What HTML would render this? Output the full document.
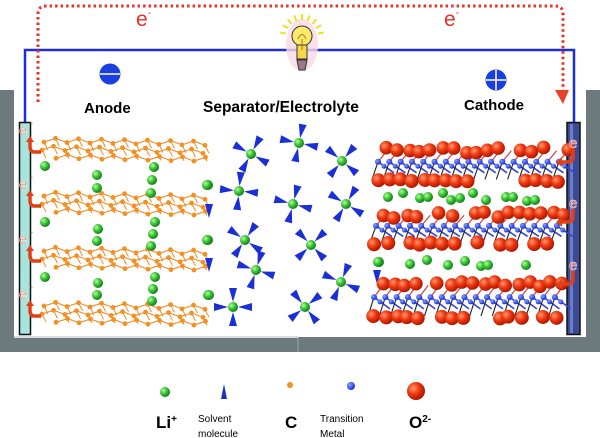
<!DOCTYPE html>
<html><head><meta charset="utf-8"><style>
html,body{margin:0;padding:0;background:#fff;}
svg{display:block}
text{font-family:"Liberation Sans",Arial,sans-serif}
</style></head><body>
<svg id="s" width="600" height="438" viewBox="0 0 600 438" xmlns="http://www.w3.org/2000/svg">
<defs>
<radialGradient id="g" cx="35%" cy="35%" r="65%"><stop offset="0" stop-color="#b8ff9a"/><stop offset=".5" stop-color="#3ec83a"/><stop offset="1" stop-color="#12801a"/></radialGradient>
<radialGradient id="r" cx="35%" cy="35%" r="65%"><stop offset="0" stop-color="#ff9a70"/><stop offset=".5" stop-color="#f03a12"/><stop offset="1" stop-color="#b01800"/></radialGradient>
<radialGradient id="b" cx="35%" cy="35%" r="65%"><stop offset="0" stop-color="#8aa0ff"/><stop offset="1" stop-color="#1630d8"/></radialGradient>
</defs>
<rect x="0" y="90" width="14" height="262" fill="#6c7a7e"/>
<rect x="586" y="90" width="14" height="262" fill="#6c7a7e"/>
<rect x="0" y="337" width="600" height="15" fill="#6c7a7e"/>
<line x1="298" y1="337" x2="298" y2="352" stroke="#9aa6aa" stroke-width="1"/>
<rect x="14" y="336" width="284" height="2" fill="#d8dcdc"/>
<polyline points="25,122 25,50 574,50 574,122" fill="none" stroke="#1a2fd6" stroke-width="2.5"/>
<path d="M38,102 L38,14 Q38,6 46,6 L555,6 Q563,6 563,14 L563,92" fill="none" stroke="#e8302a" stroke-width="3" stroke-dasharray="2.5,3"/>
<polygon points="555,90 569,90 563,104" fill="#e8402a"/>
<text x="136" y="26" font-size="21" fill="#e8302a">e<tspan font-size="10" dy="-10">-</tspan></text>
<text x="444" y="26" font-size="21" fill="#e8302a">e<tspan font-size="10" dy="-10">-</tspan></text>
<g id="bulb"></g>
<circle cx="110" cy="74" r="10.5" fill="#1a3ee0"/><line x1="100" y1="74" x2="120" y2="74" stroke="#fff" stroke-width="1.5"/>
<circle cx="496" cy="80" r="10.5" fill="#1a3ee0"/><line x1="486" y1="80" x2="506" y2="80" stroke="#fff" stroke-width="1.5"/><line x1="496" y1="70" x2="496" y2="90" stroke="#fff" stroke-width="1.5"/>
<text x="84" y="113" font-size="15" font-weight="bold">Anode</text>
<text x="203" y="112" font-size="15.5" font-weight="bold">Separator/Electrolyte</text>
<text x="464" y="110" font-size="15" font-weight="bold">Cathode</text>
<rect x="19.5" y="122.5" width="11" height="212" fill="#a6e4dc" stroke="#111" stroke-width="1.5"/>
<rect x="567" y="122.5" width="13" height="212" fill="#3a4a94" stroke="#111" stroke-width="1.5"/>
<rect x="570" y="124" width="3" height="209" fill="#6e7ec4"/>
<g id="an"></g><g id="sep"></g><g id="ca"></g>
<circle cx="165" cy="392" r="5" fill="url(#g)"/>
<polygon points="224,384 221,399 227,399" fill="#1a2fd6"/>
<circle cx="290" cy="385" r="3" fill="#f59020"/>
<circle cx="351" cy="386" r="4" fill="url(#b)"/>
<circle cx="416" cy="391" r="9" fill="url(#r)"/>
<text x="156" y="428" font-size="17" font-weight="bold">Li<tspan font-size="10" dy="-6">+</tspan></text>
<text x="198" y="422" font-size="10">Solvent</text>
<text x="198" y="437" font-size="10">molecule</text>
<text x="285" y="428" font-size="17" font-weight="bold">C</text>
<text x="320" y="422" font-size="10">Transition</text>
<text x="320" y="437" font-size="10">Metal</text>
<text x="409" y="428" font-size="17" font-weight="bold">O<tspan font-size="10" dy="-6">2-</tspan></text>
</svg>
<script>
var NS="http://www.w3.org/2000/svg";
function el(p,t,a){var e=document.createElementNS(NS,t);for(var k in a)e.setAttribute(k,a[k]);p.appendChild(e);return e;}
var seed=7;function rnd(){seed=(seed*9301+49297)%233280;return seed/233280;}
var B=document.getElementById('bulb');
el(B,'ellipse',{cx:302,cy:45,rx:16,ry:26,fill:'#f8d8e4',opacity:.8});
for(var i=0;i<9;i++){var a=-Math.PI*0.95+i*Math.PI*0.9/8;el(B,'line',{x1:302+Math.cos(a)*16,y1:36+Math.sin(a)*16,x2:302+Math.cos(a)*22,y2:36+Math.sin(a)*22,stroke:'#f0e020','stroke-width':2});}
el(B,'circle',{cx:302,cy:36,r:10,fill:'#fbe96a',stroke:'#333','stroke-width':1});
el(B,'rect',{x:297,y:45,width:10,height:14,fill:'#f4d84a',stroke:'#333','stroke-width':1});
el(B,'path',{d:'M297,60 L307,60 L305,70 L299,70 Z',fill:'#9a7a8a',stroke:'#333','stroke-width':1});
el(B,'path',{d:'M298,39 Q302,30 306,39 M302,39 L302,50',fill:'none',stroke:'#b07020','stroke-width':1});
var A=document.getElementById('an');
[138,192,247,302].forEach(function(t,li){
 var rows=[[t+2,44,0],[t+10,42,6],[t+18,56,8]];
 rows.forEach(function(r,ri){
  var pts=[];for(var x=r[1];x<=208;x+=11.5){var k=pts.length;pts.push([x,r[0]+(k%2?-2:2)+ (x-40)*0.02]);}
  el(A,'polyline',{points:pts.map(function(p){return p.join(',')}).join(' '),fill:'none',stroke:'#f08a2a','stroke-width':1.1});
  pts.forEach(function(p,k){ if(ri<2) el(A,'line',{x1:p[0],y1:p[1],x2:p[0]+4,y2:p[1]+8,stroke:'#f08a2a','stroke-width':1});
   el(A,'circle',{cx:p[0],cy:p[1],r:2.4,fill:'#f59020'});});
 });
 el(A,'path',{d:'M41,'+(t+14)+' L34,'+(t+14)+' Q30,'+(t+14)+' 30,'+(t+8)+' L30,'+(t+2),fill:'none',stroke:'#e04018','stroke-width':3.5});
 el(A,'polygon',{points:'26,'+(t+4)+' 34,'+(t+4)+' 30,'+(t-2),fill:'#e04018'});
 var tx=el(A,'text',{x:19,y:t-3,'font-size':15,fill:'#e8402a',stroke:'#fff','stroke-width':.5});tx.textContent='e';
 var tm=el(A,'text',{x:30,y:t-12,'font-size':9,fill:'#e8402a'});tm.textContent='-';
});
var greenA=[[45,166],[97,175],[97,188],[154,167],[152,180],[151,193],[45,222],[98,229],[97,241],[155,222],[153,234],[151,246],[45,277],[98,283],[97,295],[155,277],[153,289],[152,301],[208,185],[208,240],[208,295]];
greenA.forEach(function(p){el(A,'circle',{cx:p[0],cy:p[1],r:5,fill:'url(#g)'});});
var S=document.getElementById('sep');
function cone(cx,cy,ang,len,near){var c=Math.cos(ang),s=Math.sin(ang);var x1=cx+c*near,y1=cy+s*near,x2=cx+c*(near+len),y2=cy+s*(near+len);var w=4;
 el(S,'polygon',{points:x1+','+y1+' '+(x2-s*w)+','+(y2+c*w)+' '+(x2+s*w)+','+(y2-c*w),fill:'#1a2fd6'});}
var stars=[[251,154,.5],[299,143,.2],[342,161,.7],[239,191,.1],[245,240,.6],[256,270,.3],[311,245,.8],[233,307,0],[341,282,.4],[305,307,.9],[293,204,.25],[346,204,.55]];
stars.forEach(function(st){for(var k=0;k<4;k++)cone(st[0],st[1],st[2]+k*Math.PI/2,14,5);el(S,'circle',{cx:st[0],cy:st[1],r:5,fill:'url(#g)'});});
[[207,185],[207,240],[209,295],[379,262]].forEach(function(p){el(S,'circle',{cx:p[0],cy:p[1],r:5,fill:'url(#g)'});});
cone(209,218,Math.PI/2,-14,0);cone(209,272,Math.PI/2,-14,0);cone(377,284,Math.PI/2,-14,0);
var C=document.getElementById('ca');
function band(t,h,x0){
 var n=17;for(var i=0;i<n;i++){var x=x0+i*11.3;
  el(C,'line',{x1:x,y1:t+h*0.45,x2:x+16,y2:t+h*0.7,stroke:'#3344dd','stroke-width':1.6});
  el(C,'line',{x1:x,y1:t+h*0.45,x2:x+9,y2:t+h*0.2,stroke:'#d04040','stroke-width':1.2});
  el(C,'line',{x1:x,y1:t+h*0.45,x2:x-6,y2:t+h*0.85,stroke:'#222','stroke-width':1.1});}
 for(var i=0;i<n;i++){var x=x0+6+i*11.3;if(rnd()<.85)el(C,'circle',{cx:x+rnd()*4,cy:t+5+rnd()*6,r:6.8,fill:'url(#r)'});}
 for(var i=0;i<n;i++){var x=x0+i*11.3;el(C,'circle',{cx:x,cy:t+h*0.45,r:3,fill:'url(#b)'});el(C,'circle',{cx:x+6,cy:t+h*0.55,r:2.5,fill:'url(#b)'});}
 for(var i=0;i<n;i++){var x=x0-2+i*11.3;if(rnd()<.85)el(C,'circle',{cx:x+rnd()*4,cy:t+h-7+rnd()*3,r:7,fill:'url(#r)'});}
}
band(142,44,378);band(207,42,376);band(276,47,374);
[[388,197],[403,193],[420,198],[428,197],[443,193],[451,200],[460,198],[473,193],[486,200],[506,197],[513,197],[527,201],[535,200],[378,262],[410,264],[427,260],[448,265],[465,261],[481,266],[488,265],[526,265]].forEach(function(p){el(C,'circle',{cx:p[0],cy:p[1],r:5,fill:'url(#g)'});});
[145,205,267].forEach(function(y){
 el(C,'path',{d:'M573,'+(y+4)+' L573,'+(y+12)+' Q573,'+(y+17)+' 567,'+(y+17)+' L560,'+(y+17),fill:'none',stroke:'#e04018','stroke-width':3.5});
 el(C,'polygon',{points:'562,'+(y+12)+' 562,'+(y+22)+' 556,'+(y+17),fill:'#e04018'});
 var tx=el(C,'text',{x:569,y:y+3,'font-size':15,fill:'#e8402a',stroke:'#fff','stroke-width':.5});tx.textContent='e';
});
</script>
</body></html>
